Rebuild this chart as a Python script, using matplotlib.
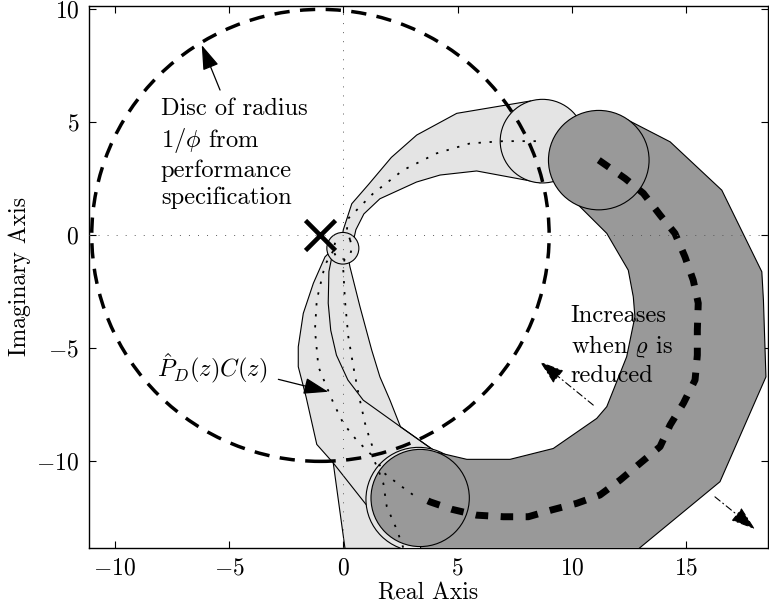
import matplotlib
matplotlib.use('Agg')
import matplotlib.pyplot as plt
from matplotlib.patches import Circle, Polygon

# ---------------- data ----------------
X_TICKS = [-10, -5, 0, 5, 10, 15]
Y_TICKS = [-10, -5, 0, 5, 10]
X_LIM = (-11.12, 18.57)
Y_LIM = (-13.82, 10.15)

PERF_CENTER = (-1.0, 0.0)      # critical point / centre of performance disc
PERF_RADIUS = 10.0

# light-grey uncertainty band (nominal rho)
UPPER_OUT_X = [-0.05, 0.0, 0.37, 1.1, 2.1, 3.21, 4.96, 8.2]
UPPER_OUT_Y = [-0.1, 0.25, 1.4, 2.25, 3.45, 4.44, 5.4, 5.95]
UPPER_IN_X = [0.45, 0.55, 0.9, 1.6, 3.2, 4.23, 5.83, 8.6]
UPPER_IN_Y = [-0.2, 0.25, 0.95, 1.62, 2.36, 2.67, 2.85, 2.33]

LEFT_OUT_X = [-0.55, -0.8, -1.31, -1.75, -1.97, -1.97, -1.63, -1.16, -0.44, 0.08, 0.12]
LEFT_OUT_Y = [-0.7, -0.95, -2.12, -3.45, -4.93, -5.81, -7.14, -9.25, -10.07, -13.9, -14.5]
HULL_X = [-0.44, 1.3]
HULL_Y = [-10.07, -12.3]
MID_X = [-0.5, -0.63, -0.66, -0.55, -0.3, 0.2, 0.87, 2.5, 3.94]
MID_Y = [-0.95, -1.6, -3.0, -4.2, -5.3, -6.4, -7.29, -8.47, -9.5]
RIGHT_X = [0.2, 0.29, 0.73, 1.24, 1.6, 2.04, 2.5, 3.94]
RIGHT_Y = [-0.9, -1.39, -3.16, -5.07, -6.26, -7.29, -8.47, -9.5]
LOWER_BOTTOM_X = [2.6, 3.29]
LOWER_BOTTOM_Y = [-14.5, -11.68]

ORIGIN_DISC = (-0.02, -0.57, 0.7)
LIGHT_DISC_TOP = (8.71, 4.17, 1.85)
LIGHT_DISC_BOT = (3.29, -11.68, 2.3)

# dark-grey uncertainty band (reduced rho)
DARK_X = [11.17, 12.39, 14.29, 16.55, 18.3, 18.37, 18.48, 16.47, 12.97, 11.0, 5.0, 3.38,
          3.38, 4.1, 5.4, 7.29, 9.18, 11.08, 11.52, 12.39, 12.75, 12.68, 12.46, 11.52, 10.2]
DARK_Y = [3.33, 5.13, 4.14, 2.0, -1.61, -2.86, -6.26, -10.9, -13.82, -15.5, -15.3, -15.3,
          -11.62, -9.6, -9.91, -9.91, -9.43, -8.1, -7.58, -5.37, -3.6, -2.72, -1.54, 0.09, 1.42]
DARK_DISC_TOP = (11.17, 3.33, 2.2)
DARK_DISC_BOT = (3.36, -11.62, 2.15)

# nominal locus (dotted)
NOM_UP_X = [0.3, 0.15, 0.22, 1.31, 2.62, 4.08, 5.54, 7.0, 8.53]
NOM_UP_Y = [-0.2, 0.2, 0.75, 1.86, 2.89, 3.63, 4.07, 4.17, 4.17]
NOM_LOOP_X = [0.3, 0.38, 0.3, 0.05, -0.3, -0.45, -0.35, -0.1]
NOM_LOOP_Y = [-0.2, -0.55, -0.85, -1.05, -0.98, -0.65, -0.3, -0.15]
NOM_LEFT_X = [-0.45, -0.8, -1.16, -1.24, -1.09, -0.73, -0.44, 0.0, 0.58, 1.24, 1.5, 1.75, 1.9, 2.33, 2.65]
NOM_LEFT_Y = [-0.7, -1.3, -2.86, -4.19, -5.81, -6.7, -7.4, -8.32, -9.06, -9.72, -10.3, -10.97, -12.0, -13.0, -13.9]
NOM_RIGHT_X = [0.05, 0.0, 0.07, 0.22, 0.44, 0.66, 0.95, 1.17, 1.45, 1.7, 2.4, 3.06]
NOM_RIGHT_Y = [-1.05, -1.54, -2.86, -4.49, -5.81, -6.99, -8.32, -9.06, -9.8, -10.45, -11.0, -11.49]

# locus for reduced rho (thick dashed)
RED_X = [11.17, 12.32, 13.12, 13.85, 14.5, 14.94, 15.3, 15.52, 15.48, 15.48, 15.38, 14.87, 14.29,
         13.85, 12.97, 12.1, 11.22, 10.2, 9.11, 8.09, 7.0, 5.83, 4.74, 3.79, 3.5]
RED_Y = [3.33, 2.52, 1.86, 0.9, 0.09, -0.95, -1.98, -3.0, -4.19, -5.3, -6.4, -7.43, -8.39,
         -9.35, -10.09, -10.83, -11.49, -11.86, -12.15, -12.45, -12.45, -12.38, -12.12, -11.79, -11.65]

LIGHT = '#e4e4e4'
DARK = '#999999'

plt.rcParams.update({
    'font.family': 'serif', 'font.serif': ['cmr10'], 'mathtext.fontset': 'cm',
    'axes.formatter.use_mathtext': True, 'font.size': 17,
    'xtick.direction': 'in', 'ytick.direction': 'in',
    'xtick.top': True, 'ytick.right': True,
    'xtick.major.size': 5, 'ytick.major.size': 5,
    'xtick.major.pad': 7, 'ytick.major.pad': 7,
    'axes.linewidth': 1.0,
})

fig = plt.figure(figsize=(7.69, 6.11), dpi=100)
ax = fig.add_axes([89 / 769, (611 - 547.7) / 611, (768 - 89) / 769, (547.7 - 6) / 611])
ax.set_xlim(*X_LIM)
ax.set_ylim(*Y_LIM)
ax.set_xticks(X_TICKS)
ax.set_yticks(Y_TICKS)

EDGE = dict(color='k', lw=0.8, solid_joinstyle='miter')

# light fills
up_poly = list(zip(UPPER_OUT_X, UPPER_OUT_Y)) + [LIGHT_DISC_TOP[:2]] + list(zip(UPPER_IN_X, UPPER_IN_Y))[::-1]
ax.add_patch(Polygon(up_poly, closed=True, fc=LIGHT, ec='none', zorder=1))
low_poly = (list(zip(LEFT_OUT_X, LEFT_OUT_Y)) + list(zip(LOWER_BOTTOM_X, LOWER_BOTTOM_Y))
            + list(zip(RIGHT_X, RIGHT_Y))[::-1])
ax.add_patch(Polygon(low_poly, closed=True, fc=LIGHT, ec='none', zorder=1))
# light outlines
for xs, ys in [(UPPER_OUT_X, UPPER_OUT_Y), (UPPER_IN_X, UPPER_IN_Y), (LEFT_OUT_X, LEFT_OUT_Y),
               (HULL_X, HULL_Y), (MID_X, MID_Y), (RIGHT_X, RIGHT_Y)]:
    ax.plot(xs, ys, zorder=2, **EDGE)
for cx, cy, r in [ORIGIN_DISC, LIGHT_DISC_TOP, LIGHT_DISC_BOT]:
    ax.add_patch(Circle((cx, cy), r, fc=LIGHT, ec='k', lw=0.8, zorder=3))

# dark band
ax.add_patch(Polygon(list(zip(DARK_X, DARK_Y)), closed=True, fc=DARK, ec='k', lw=0.8, zorder=4))
for cx, cy, r in [DARK_DISC_TOP, DARK_DISC_BOT]:
    ax.add_patch(Circle((cx, cy), r, fc=DARK, ec='k', lw=0.8, zorder=5))

# nominal dotted locus
DOT = dict(color='k', lw=1.3, ls=(0, (1.3, 4.8)), zorder=6)
for xs, ys in [(NOM_UP_X, NOM_UP_Y), (NOM_LOOP_X, NOM_LOOP_Y), (NOM_LEFT_X, NOM_LEFT_Y),
               (NOM_RIGHT_X, NOM_RIGHT_Y)]:
    ax.plot(xs, ys, **DOT)

# reduced-rho thick dashed locus
ax.plot(RED_X, RED_Y, color='k', lw=5, ls=(0, (1.8, 1.8)), dash_capstyle='butt', zorder=7)

# grid axes lines
ax.axhline(0, color='0.35', lw=0.7, ls=(0, (1, 8.3)), zorder=8)
ax.axvline(0, color='0.35', lw=0.7, ls=(0, (1, 8.3)), zorder=8)

# performance disc
ax.add_patch(Circle(PERF_CENTER, PERF_RADIUS, fill=False, ec='k', lw=2.5,
                    ls=(0, (4.4, 3.0)), zorder=9))
ax.plot([PERF_CENTER[0]], [PERF_CENTER[1]], marker='x', ms=22, mew=3.3, color='k', zorder=10)

# annotations
TXT = 17.6
ax.text(-7.98, 6.1, 'Disc of radius\n$1/\\phi$ from\nperformance\nspecification',
        ha='left', va='top', linespacing=1.28, fontsize=TXT, zorder=11)
ax.annotate('', xy=(-6.19, 8.42), xytext=(-5.39, 6.43),
            arrowprops=dict(arrowstyle='-|>,head_length=0.9,head_width=0.3', color='k', lw=0.9,
                            shrinkA=0, shrinkB=0), zorder=11)
ax.text(-8.16, -5.89, '$\\hat{P}_D(z)C(z)$', ha='left', va='center', fontsize=TXT, zorder=11)
ax.annotate('', xy=(-0.66, -6.92), xytext=(-2.84, -6.37),
            arrowprops=dict(arrowstyle='-|>,head_length=0.9,head_width=0.3', color='k', lw=0.9,
                            shrinkA=0, shrinkB=0), zorder=11)
ax.text(9.94, -3.08, 'Increases\nwhen $\\varrho$ is\nreduced', ha='left', va='top',
        linespacing=1.28, fontsize=TXT, zorder=11)
for tip, tail in [((8.6, -5.59), (10.93, -7.51)), ((18.0, -13.0), (16.25, -11.57))]:
    ax.annotate('', xy=tip, xytext=tail,
                arrowprops=dict(arrowstyle='-|>,head_length=0.9,head_width=0.3', color='k', lw=0.8,
                                ls=(0, (6, 3, 1, 3)), shrinkA=0, shrinkB=0), zorder=11)

ax.set_xlabel('Real Axis', labelpad=2)
ax.set_ylabel('Imaginary Axis', labelpad=4)

fig.savefig('out.png', dpi=100)
